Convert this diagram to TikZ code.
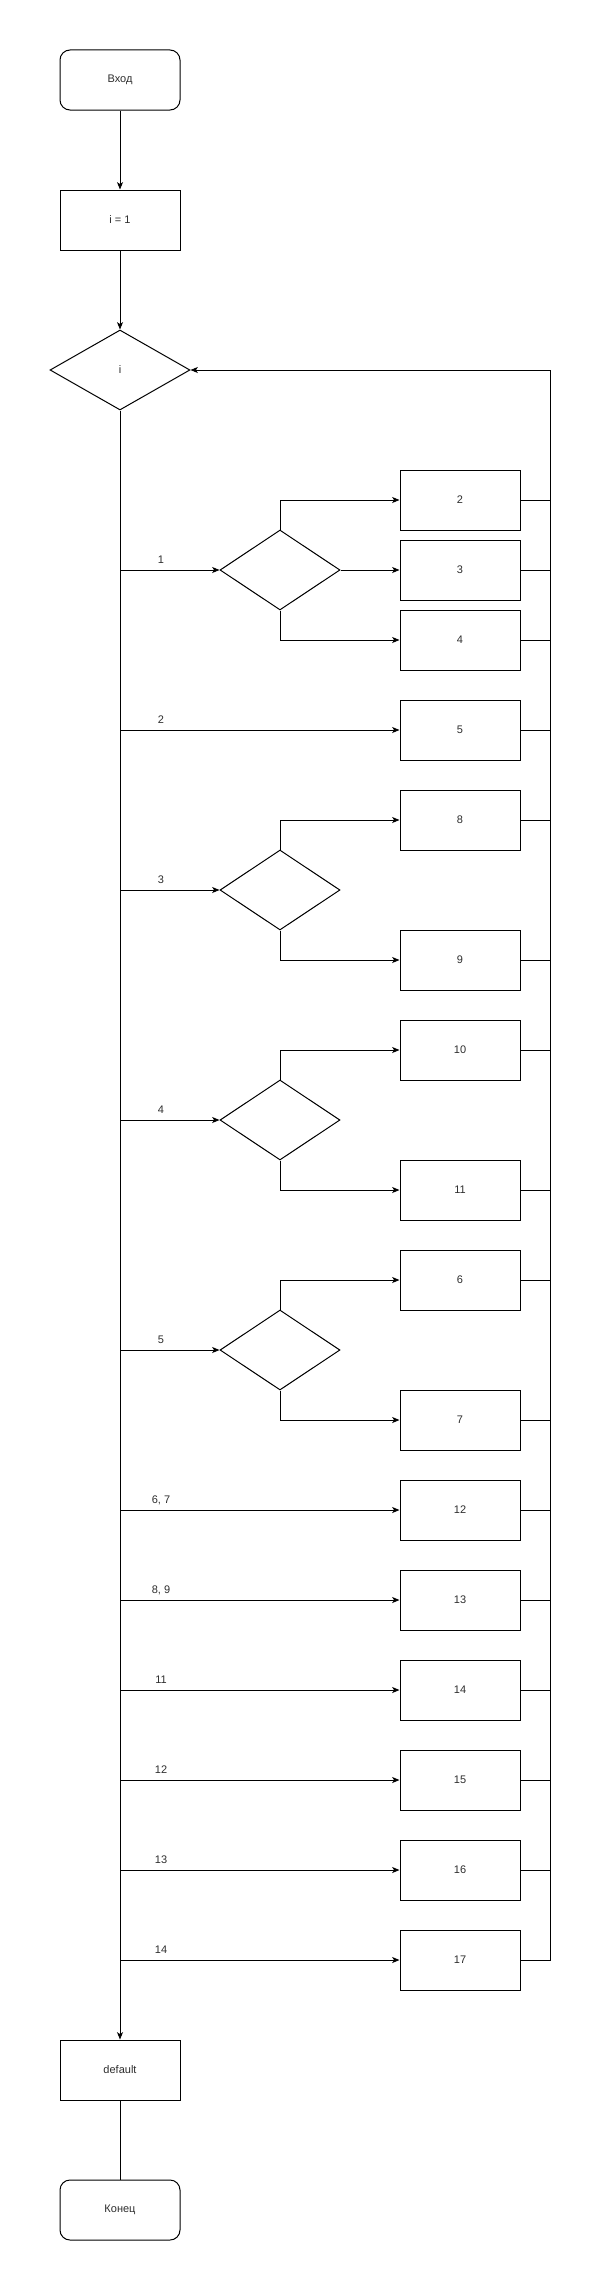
\documentclass[tikz,border=0pt]{standalone}
\usepackage{fontspec}
\setmainfont{Liberation Sans}
\usetikzlibrary{shapes.geometric,arrows.meta}
\definecolor{txt}{RGB}{45,45,45}
\begin{document}
\begin{tikzpicture}[x=0.75pt,y=-0.75pt,
  every node/.style={font=\fontsize{8.25pt}{10pt}\selectfont, text=txt},
  proc/.style={draw=black, line width=0.75pt, minimum width=90pt, minimum height=45pt, inner sep=0pt},
  term/.style={proc, rounded corners=7.5pt},
  cond/.style={draw=black, line width=0.75pt, diamond, minimum width=90pt, minimum height=60pt, inner sep=0pt},
  wire/.style={draw=black, line width=0.75pt},
  arr/.style={wire, -{Stealth[length=5.5pt, width=4.5pt, inset=1.4pt]}},
  lbl/.style={inner sep=0pt}
]
\useasboundingbox (0,0) rectangle (609,2291);

% main column
\node[term] (start) at (120,80) {Вход};
\node[proc] (init) at (120,220) {i = 1};
\node[cond, minimum width=105pt] (sw) at (120,370) {i};
\node[proc] (def) at (120,2070) {default};
\node[term] (fin) at (120,2210) {Конец};

% inner decisions
\node[cond] (d1) at (280,570) {};
\node[cond] (d3) at (280,890) {};
\node[cond] (d4) at (280,1120) {};
\node[cond] (d5) at (280,1350) {};

% action boxes
\node[proc] (b2) at (460,500) {2};
\node[proc] (b3) at (460,570) {3};
\node[proc] (b4) at (460,640) {4};
\node[proc] (b5) at (460,730) {5};
\node[proc] (b8) at (460,820) {8};
\node[proc] (b9) at (460,960) {9};
\node[proc] (b10) at (460,1050) {10};
\node[proc] (b11) at (460,1190) {11};
\node[proc] (b6) at (460,1280) {6};
\node[proc] (b7) at (460,1420) {7};
\node[proc] (b12) at (460,1510) {12};
\node[proc] (b13) at (460,1600) {13};
\node[proc] (b14) at (460,1690) {14};
\node[proc] (b15) at (460,1780) {15};
\node[proc] (b16) at (460,1870) {16};
\node[proc] (b17) at (460,1960) {17};

\coordinate (lp) at (550,370);

% main flow
\draw[arr] (start) -- (init);
\draw[arr] (init) -- (sw);
\draw[arr] (sw.south) -- (def.north);
\draw[wire] (def) -- (fin);

% branches from trunk
\foreach \t/\lab/\nm in {d1/1/l1, b5/2/l2, d3/3/l3, d4/4/l4, d5/5/l5, b12/{6, 7}/l67, b13/{8, 9}/l89, b14/11/l11, b15/12/l12, b16/13/l13, b17/14/l14}{
  \draw[arr] (sw.south |- \t.west) coordinate (c\nm) -- (\t.west);
  \node[lbl] (\nm) at ([xshift=30.75pt, yshift=7.5pt]c\nm) {\lab};
}

% decision sub-branches
\draw[arr] (d1.north) |- (b2.west);
\draw[arr] (d1.east) -- (b3.west);
\draw[arr] (d1.south) |- (b4.west);
\draw[arr] (d3.north) |- (b8.west);
\draw[arr] (d3.south) |- (b9.west);
\draw[arr] (d4.north) |- (b10.west);
\draw[arr] (d4.south) |- (b11.west);
\draw[arr] (d5.north) |- (b6.west);
\draw[arr] (d5.south) |- (b7.west);

% returns to loop
\foreach \b in {b2,b3,b4,b5,b8,b9,b10,b11,b6,b7,b12,b13,b14,b15,b16}{
  \draw[wire] (\b.east) -- (lp |- \b.east);
}
\draw[arr] (b17.east) -- (lp |- b17.east) -- (lp) -- (sw.east);
\end{tikzpicture}
\end{document}
